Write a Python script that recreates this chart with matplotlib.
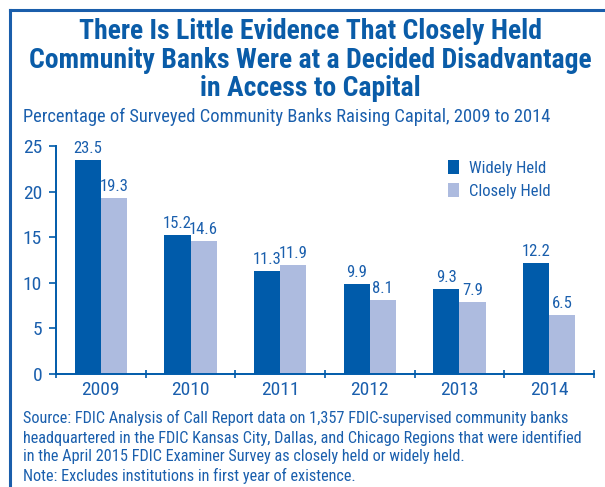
import matplotlib
matplotlib.use("Agg")
import matplotlib.pyplot as plt
import numpy as np
from matplotlib.lines import Line2D

years = ["2009", "2010", "2011", "2012", "2013", "2014"]
widely_held = [23.5, 15.2, 11.3, 9.9, 9.3, 12.2]
closely_held = [19.3, 14.6, 11.9, 8.1, 7.9, 6.5]
series_names = ["Widely Held", "Closely Held"]
yticks = [0, 5, 10, 15, 20, 25]

title = ("There Is Little Evidence That Closely Held\n"
         "Community Banks Were at a Decided Disadvantage\n"
         "in Access to Capital")
subtitle = "Percentage of Surveyed Community Banks Raising Capital, 2009 to 2014"
source = ("Source: FDIC Analysis of Call Report data on 1,357 FDIC-supervised community banks\n"
          "headquartered in the FDIC Kansas City, Dallas, and Chicago Regions that were identified\n"
          "in the April 2015 FDIC Examiner Survey as closely held or widely held.\n"
          "Note: Excludes institutions in first year of existence.")

FONT = ["Roboto Condensed", "DejaVu Sans"]
plt.rcParams["font.family"] = FONT
BLUE_TXT = "#1A5FAD"
DARK = "#005BAA"
LIGHT = "#ADBBDF"

fig = plt.figure(figsize=(6.05, 4.87), dpi=100)
ax = fig.add_axes([56/605, 1-374/487, (594-56)/605, (374-146)/487])

x = np.arange(len(years))
w = 0.29
b1 = ax.bar(x - w/2, widely_held, w, color=DARK, label=series_names[0])
b2 = ax.bar(x + w/2, closely_held, w, color=LIGHT, label=series_names[1])
for bars, vals in ((b1, widely_held), (b2, closely_held)):
    for r, v in zip(bars, vals):
        ax.text(r.get_x() + r.get_width()/2, v + 0.45, f"{v:.1f}", ha="center", va="bottom",
                fontsize=12, color=BLUE_TXT)

ax.set_xlim(-0.5, len(years) - 0.5)
ax.set_ylim(0, 25)
ax.set_yticks(yticks)
ax.set_xticks(x)
ax.set_xticklabels(years)
ax.set_xticks(np.arange(-0.5, len(years)), minor=True)
ax.tick_params(axis="x", which="major", length=0, pad=5, labelsize=14, labelcolor=BLUE_TXT)
ax.tick_params(axis="x", which="minor", length=6, width=1.2, color=DARK, direction="inout")
ax.tick_params(axis="y", length=5, width=1.2, color=DARK, labelsize=14, labelcolor=BLUE_TXT, pad=5)
for s in ["top", "right"]:
    ax.spines[s].set_visible(False)
for s in ["left", "bottom"]:
    ax.spines[s].set_color(DARK)
    ax.spines[s].set_linewidth(1.4)

leg = ax.legend(loc="upper left", bbox_to_anchor=(0.70, 1.005), frameon=False, fontsize=12,
                handlelength=0.7, handleheight=0.9, handletextpad=0.6, labelspacing=0.45)
for t in leg.get_texts():
    t.set_color(BLUE_TXT)

fig.text(0.513, 0.963, title, ha="center", va="top", fontsize=20, fontweight="bold",
         color="#0A5CA8", linespacing=1.08)
fig.text(23/605, 1-117/487, subtitle, ha="left", va="center", fontsize=13.3, color=BLUE_TXT)
fig.text(23/605, 1-410/487, source, ha="left", va="top", fontsize=11.7, color=BLUE_TXT,
         linespacing=1.28)

# frame (top and left borders)
fig.add_artist(Line2D([10/605, 10/605], [0, 1-10/487], color="#1A5EAB", lw=2.2,
                      transform=fig.transFigure))
fig.add_artist(Line2D([10/605, 1], [1-10/487, 1-10/487], color="#1A5EAB", lw=2.2,
                      transform=fig.transFigure))

fig.savefig("out.png", dpi=100)
